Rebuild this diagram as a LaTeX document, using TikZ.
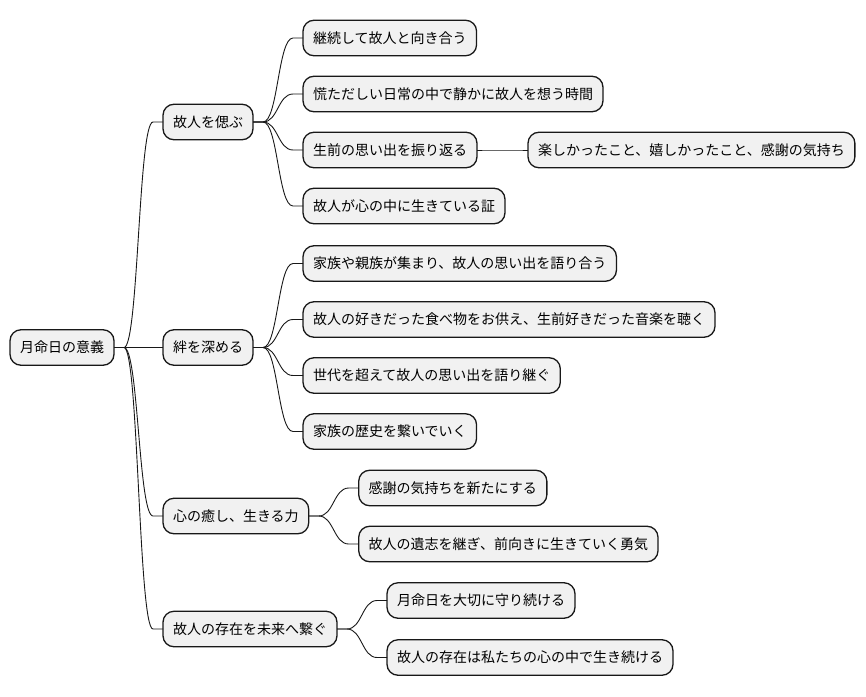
\documentclass[tikz,border=0pt]{standalone}
\usepackage{fontspec}
\setmainfont{Noto Sans CJK JP}
\usetikzlibrary{positioning,calc}
\definecolor{boxbg}{HTML}{F1F1F1}
\definecolor{boxline}{HTML}{181818}

\begin{document}
\begin{tikzpicture}[
    x=1pt, y=-1pt,
 mynode/.style = {
        draw=boxline, fill=boxbg, rectangle, rounded corners=11pt,
        font=\fontsize{14}{16}\selectfont, line width=1.3pt,
        inner xsep=10pt, inner ysep=0pt, minimum height=35.5pt,
        outer sep=0pt},
 mylink/.style = {
        draw=boxline, line width=0.9pt,
        to path={let \p1=(\tikztostart.east), \p2=(\tikztotarget.west) in
            (\p1) -- (\x1+10pt,\y1)
            .. controls (0.5*\x1+0.5*\x2,\y1) and (0.5*\x1+0.5*\x2,\y2) ..
            (\x2-10pt,\y2) -- (\p2)}}
                    ]
\useasboundingbox (0,0) rectangle (866,696);
% the root
\node (root) [mynode, anchor=west] at (10,347.5) {月命日の意義};

% the first level
\node (n1) [mynode, right=49pt of root, yshift=225.5pt]  {故人を偲ぶ};
\node (n2) [mynode, right=49pt of root]                  {絆を深める};
\node (n3) [mynode, right=49pt of root, yshift=-168.5pt] {心の癒し、生きる力};
\node (n4) [mynode, right=49pt of root, yshift=-281.5pt] {故人の存在を未来へ繋ぐ};

% the branches of n1
\node (n1a) [mynode, right=50pt of n1, yshift=84pt]  {継続して故人と向き合う};
\node (n1b) [mynode, right=50pt of n1, yshift=28pt]  {慌ただしい日常の中で静かに故人を想う時間};
\node (n1c) [mynode, right=50pt of n1, yshift=-28pt] {生前の思い出を振り返る};
\node (n1d) [mynode, right=50pt of n1, yshift=-84pt] {故人が心の中に生きている証};
\node (n1c1) [mynode, right=51pt of n1c] {楽しかったこと、嬉しかったこと、感謝の気持ち};

% the branches of n2
\node (n2a) [mynode, right=50pt of n2, yshift=84pt]  {家族や親族が集まり、故人の思い出を語り合う};
\node (n2b) [mynode, right=50pt of n2, yshift=28pt]  {故人の好きだった食べ物をお供え、生前好きだった音楽を聴く};
\node (n2c) [mynode, right=50pt of n2, yshift=-28pt] {世代を超えて故人の思い出を語り継ぐ};
\node (n2d) [mynode, right=50pt of n2, yshift=-84pt] {家族の歴史を繋いでいく};

% the branches of n3 and n4
\node (n3a) [mynode, right=50pt of n3, yshift=28pt]    {感謝の気持ちを新たにする};
\node (n3b) [mynode, right=50pt of n3, yshift=-28pt]   {故人の遺志を継ぎ、前向きに生きていく勇気};
\node (n4a) [mynode, right=50pt of n4, yshift=28.5pt]  {月命日を大切に守り続ける};
\node (n4b) [mynode, right=50pt of n4, yshift=-28.5pt] {故人の存在は私たちの心の中で生き続ける};

% the links
\foreach \a/\b in {root/n1, root/n2, root/n3, root/n4,
                   n1/n1a, n1/n1b, n1/n1c, n1/n1d, n1c/n1c1,
                   n2/n2a, n2/n2b, n2/n2c, n2/n2d,
                   n3/n3a, n3/n3b, n4/n4a, n4/n4b}
    \draw[mylink] (\a) to (\b);
\end{tikzpicture}
\end{document}
